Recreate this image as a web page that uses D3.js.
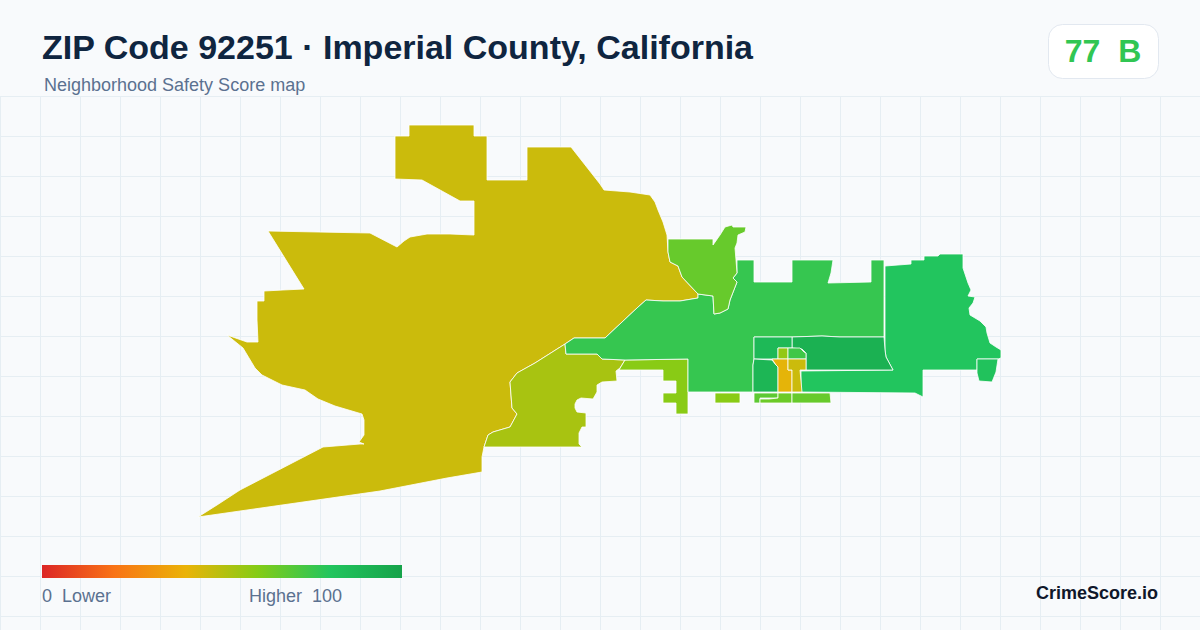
<!DOCTYPE html>
<html>
<head>
<meta charset="utf-8">
<script src="https://cdn.jsdelivr.net/npm/d3@7"></script>
<style>
    html, body { margin: 0; padding: 0; background: #f8fafc; }
    svg { display: block; }
    text { font-family: "Liberation Sans", Arial, sans-serif; }
</style>
</head>
<body>
<svg id="canvas" width="1200" height="630"></svg>
<script>
// Shapes are in map units.
let westTract = [[209,5],[274,5],[274,16],[287,16],[287,60],[327,60],[327,27],[371,27],[400,64],[404,70],[430,72],[450,75],[455,82],[458,90],[463,102],[467,115],[468,132],[470,142],[478,146],[482,157],[498,174],[498,178],[480,181],[463,181],[446,180],[437,188],[405,218],[374,218],[365,224],[335,243],[317,253],[310,262],[312,288],[317,294],[310,307],[293,312],[288,315],[284,327],[282,337],[282,352],[247,358],[180,371],[-2,397],[17,385],[40,370],[123,327],[160,324],[164,324],[159,322],[164,315],[164,300],[162,294],[135,286],[118,279],[105,270],[82,265],[62,255],[55,248],[43,228],[27,215],[47,222],[58,222],[57,200],[57,181],[64,181],[64,171],[83,170],[104,169],[68,111],[118,112],[170,113],[197,127],[204,121],[210,117],[227,114],[250,114],[274,115],[274,81],[260,81],[222,60],[195,59],[195,16],[209,16]];
let oliveTract = [[365,224],[366,234],[397,234],[402,239],[425,240],[420,248],[416,251],[417,261],[402,262],[397,265],[397,272],[393,279],[381,278],[377,280],[375,284],[375,288],[377,292],[386,293],[386,307],[382,307],[379,313],[379,324],[382,327],[333,327],[284,327],[288,315],[293,312],[310,307],[317,294],[312,288],[310,262],[317,253],[335,243]];
let limeTract = [[425,240],[488,239],[488,294],[476,294],[476,283],[463,283],[463,273],[476,273],[476,261],[463,261],[463,250],[419,250]];
let limePatch = [[515,273],[540,273],[540,283],[515,283]];
let centralTract = [[365,224],[374,218],[405,218],[437,188],[446,180],[463,181],[480,181],[498,178],[498,174],[513,176],[514,194],[520,193],[528,189],[530,180],[537,162],[533,158],[537,153],[537,140],[554,140],[554,162],[592,162],[592,140],[633,140],[631,153],[628,163],[671,162],[671,140],[684,140],[684,217],[640,217],[622,216],[592,217],[554,217],[554,239],[553,245],[553,272],[488,272],[488,239],[425,240],[402,239],[397,234],[366,234]];
let eastTract = [[685,146],[711,144],[711,140],[724,140],[724,136],[738,136],[740,134],[763,134],[763,148],[768,163],[771,170],[768,176],[775,177],[773,183],[769,188],[770,195],[780,201],[786,207],[787,213],[790,223],[796,227],[801,230],[801,238],[798,239],[777,239],[777,250],[723,250],[723,277],[715,273],[601,272],[601,251],[693,250],[686,237],[685,230]];
let eastPatch = [[777,239],[798,239],[796,252],[794,257],[792,262],[779,261],[777,253]];
let darkTract = [[592,217],[622,216],[640,217],[684,217],[685,230],[686,237],[693,250],[606,250],[606,233],[602,229],[592,228]];
let midBox = [[554,217],[592,217],[592,228],[578,228],[578,239],[554,239]];
let lowerBox = [[554,239],[572,240],[576,245],[578,247],[578,272],[553,272],[553,245]];
let smallOlive = [[578,228],[588,228],[588,239],[578,239]];
let smallGreen = [[588,228],[600,228],[604,232],[606,233],[606,239],[588,239]];
let amberTract = [[572,239],[588,239],[588,250],[592,250],[592,272],[578,272],[578,247],[576,245]];
let mustardTract = [[588,239],[606,239],[606,250],[600,250],[602,272],[592,272],[592,250],[588,250]];
let stripLeft = [[554,273],[578,273],[578,278],[569,278],[560,278],[560,283],[554,283]];
let stripMid = [[560,279],[569,279],[578,278],[578,273],[592,273],[592,283],[560,283]];
let stripRight = [[592,273],[630,273],[631,283],[592,283]];
let northTract = [[468,119],[513,119],[513,125],[520,115],[525,107],[532,105],[533,107],[546,107],[545,112],[538,115],[537,123],[535,128],[536,140],[537,153],[533,158],[537,162],[530,180],[528,189],[520,193],[514,194],[513,176],[498,174],[482,157],[478,146],[470,142],[468,132]];

let tractShapes = [westTract, oliveTract, limeTract, limePatch, centralTract, eastTract, eastPatch, darkTract, midBox, lowerBox, smallOlive, smallGreen, amberTract, mustardTract, stripLeft, stripMid, stripRight, northTract];
let tractScores = [46, 53, 59, 59, 76, 80, 82, 92, 87, 89, 57, 74, 41, 46, 68, 65, 66, 66];

let legendStops = [0, 20, 40, 60, 80, 100];
let legendColors = ['#dc2626', '#f97316', '#eab308', '#84cc16', '#22c55e', '#16a34a'];

let gridXTicks = d3.range(0, 1201, 40);
let gridYTicks = d3.range(96, 631, 40);

let titleText = 'ZIP Code 92251 · Imperial County, California';
let subtitleText = 'Neighborhood Safety Score map';
let scoreText = '77\u00a0\u00a0B';

let canvas = d3.select('#canvas');

let color = d3.scaleLinear().domain(legendStops).range(legendColors);

// background grid
canvas.selectAll('line.vgrid')
    .data(gridXTicks)
    .enter()
    .append('line')
    .attr('class', 'vgrid')
    .attr('x1', (d) => d + 0.5)
    .attr('x2', (d) => d + 0.5)
    .attr('y1', 96)
    .attr('y2', 630)
    .attr('stroke', '#e6eef3')
    .attr('stroke-width', 1);

canvas.selectAll('line.hgrid')
    .data(gridYTicks)
    .enter()
    .append('line')
    .attr('class', 'hgrid')
    .attr('x1', 0)
    .attr('x2', 1200)
    .attr('y1', (d) => d + 0.5)
    .attr('y2', (d) => d + 0.5)
    .attr('stroke', '#e6eef3')
    .attr('stroke-width', 1);

// map
let projection = d3.geoIdentity().translate([200, 120]);
let geoPath = d3.geoPath(projection);

canvas.selectAll('path.tract')
    .data(tractShapes)
    .enter()
    .append('path')
    .attr('class', 'tract')
    .attr('d', (shape) => geoPath({type: 'Polygon', coordinates: [shape.concat([shape[0]])]}))
    .attr('fill', (shape, i) => color(tractScores[i]))
    .attr('stroke', '#ffffff')
    .attr('stroke-width', 0.8)
    .attr('stroke-linejoin', 'round');

// header
canvas.append('text')
    .attr('x', 42)
    .attr('y', 59)
    .attr('font-size', 34)
    .attr('font-weight', 700)
    .attr('fill', '#0f2540')
    .text(titleText);

canvas.append('text')
    .attr('x', 44)
    .attr('y', 91)
    .attr('font-size', 18)
    .attr('fill', '#5b7190')
    .text(subtitleText);

// score badge
canvas.append('rect')
    .attr('x', 1048.5)
    .attr('y', 24.5)
    .attr('width', 110)
    .attr('height', 54)
    .attr('rx', 14)
    .attr('fill', '#ffffff')
    .attr('stroke', '#e2e8f0');

canvas.append('text')
    .attr('x', 1103)
    .attr('y', 62)
    .attr('text-anchor', 'middle')
    .attr('font-size', 32)
    .attr('font-weight', 700)
    .attr('fill', color(77))
    .text(scoreText);

// legend
let defs = canvas.append('defs');
let gradient = defs.append('linearGradient').attr('id', 'legendGradient');
gradient.selectAll('stop')
    .data(legendStops)
    .enter()
    .append('stop')
    .attr('offset', (d) => d + '%')
    .attr('stop-color', (d) => color(d));

canvas.append('rect')
    .attr('x', 42)
    .attr('y', 565)
    .attr('width', 360)
    .attr('height', 13)
    .attr('fill', 'url(#legendGradient)');

canvas.append('text')
    .attr('x', 42)
    .attr('y', 602)
    .attr('font-size', 18)
    .attr('fill', '#5b7190')
    .text('0\u00a0\u00a0Lower');

canvas.append('text')
    .attr('x', 249)
    .attr('y', 602)
    .attr('font-size', 18)
    .attr('fill', '#5b7190')
    .text('Higher\u00a0\u00a0100');

canvas.append('text')
    .attr('x', 1158)
    .attr('y', 599)
    .attr('text-anchor', 'end')
    .attr('font-size', 18)
    .attr('font-weight', 700)
    .attr('fill', '#0f172a')
    .text('CrimeScore.io');
</script>
</body>
</html>
